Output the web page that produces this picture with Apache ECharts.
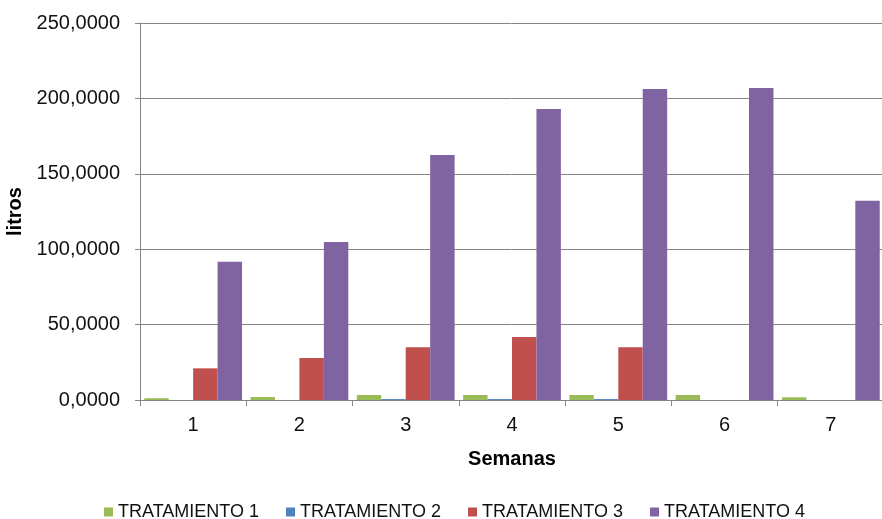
<!DOCTYPE html>
<html>
<head>
<meta charset="utf-8">
<script src="https://cdn.jsdelivr.net/npm/echarts@6/dist/echarts.min.js"></script>
<style>
  html, body { margin: 0; padding: 0; background: #fff; }
  #chart { width: 882px; height: 519px; }
</style>
</head>
<body>
<div id="chart"></div>
<script>
var semanas = ['1', '2', '3', '4', '5', '6', '7'];
var tratamiento1 = [1.2, 2.0, 3.3, 3.3, 3.3, 3.3, 1.8];
var tratamiento2 = [0, 0, 0.6, 0.6, 0.6, 0, 0];
var tratamiento3 = [21.0, 27.9, 35.0, 41.8, 35.0, 0, 0];
var tratamiento4 = [91.7, 104.8, 162.5, 193.0, 206.2, 206.9, 132.2];
var nombres = ['TRATAMIENTO 1', 'TRATAMIENTO 2', 'TRATAMIENTO 3', 'TRATAMIENTO 4'];
var colores = ['#9bbb59', '#4f81bd', '#c0504d', '#8064a2'];

var myChart = echarts.init(document.getElementById('chart'));
var fuente = 'Liberation Sans, Arial, sans-serif';

var datos = [tratamiento1, tratamiento2, tratamiento3, tratamiento4];
var series = datos.map(function (d, i) {
  return {
    name: nombres[i],
    type: 'bar',
    data: d,
    barGap: '0%',
    barCategoryGap: '8%',
    itemStyle: { color: colores[i] }
  };
});

var option = {
  animation: false,
  color: colores,
  textStyle: { fontFamily: fuente },
  // el área de trazado se sale un poco por la derecha, como en el original
  grid: {
    left: 140, width: 744, top: 23, bottom: 119,
    containLabel: false,
    outerBoundsMode: 'none'
  },
  legend: {
    top: 498,
    left: 99,
    itemWidth: 9,
    itemHeight: 9,
    itemGap: 27,
    icon: 'rect',
    textStyle: { fontSize: 18, color: '#111', fontFamily: fuente },
    data: nombres
  },
  xAxis: {
    type: 'category',
    data: semanas,
    name: 'Semanas',
    nameLocation: 'middle',
    nameGap: 49,
    nameTextStyle: { fontSize: 20, fontWeight: 'bold', color: '#000' },
    axisLine: { lineStyle: { color: '#868686', width: 1 } },
    axisTick: { show: true, length: 6, lineStyle: { color: '#868686' } },
    axisLabel: { fontSize: 20, color: '#111', margin: 15 }
  },
  yAxis: {
    type: 'value',
    min: 0,
    max: 250,
    interval: 50,
    name: 'litros',
    nameLocation: 'middle',
    nameGap: 104,
    nameTextStyle: { fontSize: 20, fontWeight: 'bold', color: '#000' },
    axisLine: { show: true, lineStyle: { color: '#868686', width: 1 } },
    axisTick: { show: true, length: 5, lineStyle: { color: '#868686' } },
    splitLine: { lineStyle: { color: '#868686', width: 1 } },
    axisLabel: {
      fontSize: 20,
      color: '#111',
      margin: 20,
      formatter: function (v) { return v.toFixed(4).replace('.', ','); }
    }
  },
  series: series
};

option && myChart.setOption(option);
</script>
</body>
</html>
